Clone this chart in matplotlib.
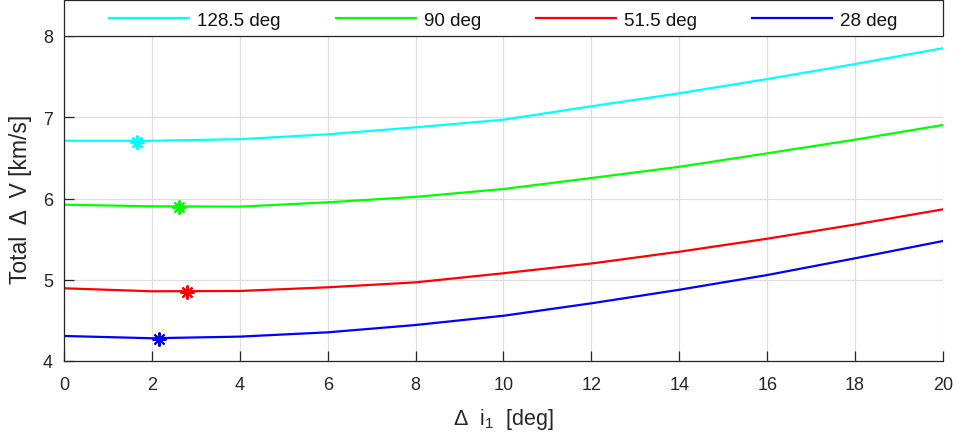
import numpy as np
import matplotlib
matplotlib.use('Agg')
import matplotlib.pyplot as plt
from matplotlib.patches import Rectangle

plt.rcParams['font.family'] = ['Liberation Sans', 'DejaVu Sans']
plt.rcParams['mathtext.fontset'] = 'custom'
plt.rcParams['mathtext.rm'] = 'Liberation Sans'
plt.rcParams['mathtext.it'] = 'Liberation Sans'

# data
di = [0, 2, 4, 6, 8, 10, 12, 14, 16, 18, 20]
dv_128 = [6.711, 6.71, 6.73, 6.79, 6.876, 6.97, 7.135, 7.295, 7.47, 7.655, 7.85]
dv_90 = [5.924, 5.904, 5.90, 5.953, 6.02, 6.117, 6.252, 6.39, 6.556, 6.724, 6.905]
dv_51 = [4.895, 4.858, 4.862, 4.907, 4.968, 5.08, 5.20, 5.345, 5.505, 5.68, 5.867]
dv_28 = [4.308, 4.28, 4.30, 4.353, 4.443, 4.557, 4.71, 4.877, 5.058, 5.264, 5.477]

# optimum points (asterisks)
opt_x = [1.65, 2.61, 2.80, 2.16]
opt_y = [6.70, 5.90, 4.853, 4.275]

labels = ['128.5 deg', '90 deg', '51.5 deg', '28 deg']
colors = ['#00ffff', '#00ff00', '#ff0000', '#0000ff']
series = [dv_128, dv_90, dv_51, dv_28]

dark = '#262626'

fig = plt.figure(figsize=(9.56, 4.39), dpi=100)
ax = fig.add_axes([64/956, 1 - 362/439, (943-64)/956, (362-37)/439])

for s, c, lab, ox, oy in zip(series, colors, labels, opt_x, opt_y):
    ax.plot(di, s, color=c, lw=1.6, label=lab)
    ax.plot(ox, oy, color=c, marker=(8, 2, 0), ms=10, mew=1.5, ls='none')

ax.set_xlim(0, 20)
ax.set_ylim(4, 8)
ax.set_xticks(np.arange(0, 21, 2))
ax.set_yticks([4, 5, 6, 7, 8])
ax.grid(True, color='#dedede', lw=0.9)
ax.set_axisbelow(True)
for side in ['top', 'right']:
    ax.spines[side].set_visible(False)
for side in ['left', 'bottom']:
    ax.spines[side].set_color(dark)
    ax.spines[side].set_linewidth(0.9)
ax.tick_params(direction='in', length=7, width=0.9, color=dark,
               labelsize=13, labelcolor=dark)
ax.tick_params(axis='x', pad=11)
ax.tick_params(axis='y', pad=8)

ax.set_xlabel('Δ  i$_{1}$  [deg]', fontsize=15.5, color=dark, labelpad=9)
ax.set_ylabel('Total  Δ  V [km/s]', fontsize=16.5, color=dark, labelpad=8)

# legend box across the top of the axes
h = 36 / 325
ax.add_patch(Rectangle((0, 1), 1, h, transform=ax.transAxes, clip_on=False,
                       facecolor='white', edgecolor=dark, lw=0.9))
leg = ax.legend(loc='center', bbox_to_anchor=(0.5, 1 + h / 2 - 0.006), ncol=4,
                fontsize=13.5, frameon=False, handlelength=4.27,
                handletextpad=0.43, columnspacing=2.93, borderaxespad=0,
                borderpad=0)
for t in leg.get_texts():
    t.set_color('#111111')

fig.savefig('out.png', dpi=100)
